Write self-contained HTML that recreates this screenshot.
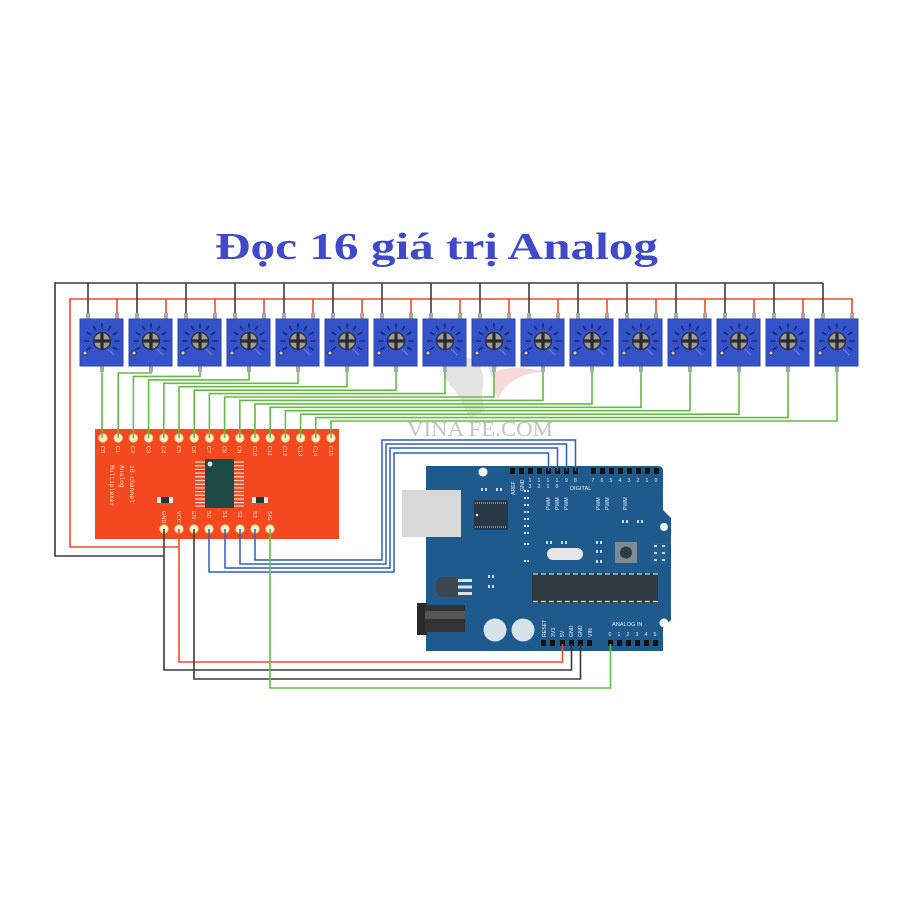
<!DOCTYPE html>
<html><head><meta charset="utf-8"><style>
html,body{margin:0;padding:0;background:#fff;}
svg{display:block;}
</style></head><body>
<svg width="907" height="907" viewBox="0 0 907 907" xmlns="http://www.w3.org/2000/svg" font-family="Liberation Sans, sans-serif">
<defs>
<g id="pot">
  <rect x="6" y="-6" width="4" height="7" fill="#a9a9a9"/>
  <rect x="35" y="-6" width="4" height="7" fill="#a9a9a9"/>
  <rect x="20" y="46" width="4" height="7" fill="#a9a9a9"/>
  <rect x="0" y="0" width="43" height="47" fill="#3452c9" stroke="#2b45ad" stroke-width="1"/>
  <g stroke="#1b2a70" stroke-width="1.6" stroke-linecap="round">
    <line x1="22" y1="9" x2="22" y2="5"/>
    <line x1="28.5" y1="10.7" x2="30.5" y2="7.3"/>
    <line x1="33.3" y1="15.5" x2="36.7" y2="13.5"/>
    <line x1="35" y1="22" x2="39" y2="22"/>
    <line x1="33.3" y1="28.5" x2="36.7" y2="30.5"/>
    <line x1="15.5" y1="10.7" x2="13.5" y2="7.3"/>
    <line x1="10.7" y1="15.5" x2="7.3" y2="13.5"/>
    <line x1="9" y1="22" x2="5" y2="22"/>
    <line x1="10.7" y1="28.5" x2="7.3" y2="30.5"/>
  </g>
  <line x1="28" y1="30" x2="34" y2="36" stroke="#6f86e0" stroke-width="1"/>
  <circle cx="22" cy="22" r="8.5" fill="#9c9c9c" stroke="#2c2c3a" stroke-width="1.3"/>
  <rect x="20.4" y="13.5" width="3.2" height="17" fill="#2a2a2a"/>
  <rect x="13.5" y="20.4" width="17" height="3.2" fill="#2a2a2a"/>
  <circle cx="5" cy="34" r="2" fill="#cfcfcf" stroke="#222" stroke-width="0.8"/>
</g>
</defs>

<rect width="907" height="907" fill="#fff"/>

<!-- Title -->
<text x="215" y="259" font-family="Liberation Serif, serif" font-weight="bold" font-size="38" fill="#3f49c9" textLength="443" lengthAdjust="spacingAndGlyphs">Đọc 16 giá trị Analog</text>

<!-- watermark -->
<g opacity="0.22">
  <path d="M450,360 C465,352 480,360 482,372 C486,385 478,395 486,410 L470,418 C462,405 460,395 452,388 C444,378 440,368 450,360 Z" fill="#8a8a8a"/>
  <path d="M495,372 C510,365 530,368 545,372 C525,372 505,380 498,400 C494,388 492,380 495,372 Z" fill="#e05050"/>
  <path d="M488,366 L500,362 L492,378 Z" fill="#7080c0"/>
</g>
<text x="407" y="436" font-family="Liberation Serif, serif" font-size="21" fill="#c4c4c4" textLength="146" lengthAdjust="spacingAndGlyphs">VINA FE.COM</text>

<!-- top buses -->
<g fill="none" stroke-width="1.6">
  <path d="M823,283 H55 V556 H164" stroke="#3a3a3a"/>
  <path d="M853,299 H70 V547 H179" stroke="#f04a2e"/>
</g>
<g stroke-width="1.6">
  <g stroke="#3a3a3a">
    <line x1="88" y1="283" x2="88" y2="313"/><line x1="137" y1="283" x2="137" y2="313"/>
    <line x1="186" y1="283" x2="186" y2="313"/><line x1="235" y1="283" x2="235" y2="313"/>
    <line x1="284" y1="283" x2="284" y2="313"/><line x1="333" y1="283" x2="333" y2="313"/>
    <line x1="382" y1="283" x2="382" y2="313"/><line x1="431" y1="283" x2="431" y2="313"/>
    <line x1="480" y1="283" x2="480" y2="313"/><line x1="529" y1="283" x2="529" y2="313"/>
    <line x1="578" y1="283" x2="578" y2="313"/><line x1="627" y1="283" x2="627" y2="313"/>
    <line x1="676" y1="283" x2="676" y2="313"/><line x1="725" y1="283" x2="725" y2="313"/>
    <line x1="774" y1="283" x2="774" y2="313"/><line x1="823" y1="283" x2="823" y2="313"/>
  </g>
  <g stroke="#f04a2e">
    <line x1="117" y1="299" x2="117" y2="313"/><line x1="166" y1="299" x2="166" y2="313"/>
    <line x1="215" y1="299" x2="215" y2="313"/><line x1="264" y1="299" x2="264" y2="313"/>
    <line x1="313" y1="299" x2="313" y2="313"/><line x1="362" y1="299" x2="362" y2="313"/>
    <line x1="411" y1="299" x2="411" y2="313"/><line x1="460" y1="299" x2="460" y2="313"/>
    <line x1="509" y1="299" x2="509" y2="313"/><line x1="558" y1="299" x2="558" y2="313"/>
    <line x1="607" y1="299" x2="607" y2="313"/><line x1="656" y1="299" x2="656" y2="313"/>
    <line x1="705" y1="299" x2="705" y2="313"/><line x1="754" y1="299" x2="754" y2="313"/>
    <line x1="803" y1="299" x2="803" y2="313"/><line x1="852" y1="299" x2="852" y2="313"/>
  </g>
</g>

<!-- pots -->
<use href="#pot" x="80" y="319"/><use href="#pot" x="129" y="319"/>
<use href="#pot" x="178" y="319"/><use href="#pot" x="227" y="319"/>
<use href="#pot" x="276" y="319"/><use href="#pot" x="325" y="319"/>
<use href="#pot" x="374" y="319"/><use href="#pot" x="423" y="319"/>
<use href="#pot" x="472" y="319"/><use href="#pot" x="521" y="319"/>
<use href="#pot" x="570" y="319"/><use href="#pot" x="619" y="319"/>
<use href="#pot" x="668" y="319"/><use href="#pot" x="717" y="319"/>
<use href="#pot" x="766" y="319"/><use href="#pot" x="815" y="319"/>

<!-- MUX board -->
<rect x="95" y="429" width="244" height="110" fill="#f4481f"/>
<g stroke="#d9d9d9" stroke-width="1.3">
  <path d="M195,462H244M195,465.7H244M195,469.4H244M195,473.1H244M195,476.8H244M195,480.5H244M195,484.2H244M195,487.9H244M195,491.6H244M195,495.3H244M195,499H244M195,502.7H244M195,506H244"/>
</g>
<rect x="205" y="459" width="29" height="49" fill="#1d4a45"/>
<circle cx="210" cy="464" r="2.4" fill="#e8e8e8"/>
<rect x="157" y="497" width="16" height="6" fill="#e8e8e8"/><rect x="161" y="497" width="8" height="6" fill="#1d3a38"/>
<rect x="252" y="497" width="16" height="6" fill="#e8e8e8"/><rect x="256" y="497" width="8" height="6" fill="#1d3a38"/>
<g fill="#ffe3cc" font-family="Liberation Mono, monospace" font-size="6.3">
  <text transform="translate(130,465) rotate(90)">16-channel</text>
  <text transform="translate(120,465) rotate(90)">Analog</text>
  <text transform="translate(110,465) rotate(90)">Multiplexer</text>
</g>
<g fill="#ffe3cc" font-size="5.6">
  <text transform="translate(101,446) rotate(90)">C0</text>
  <text transform="translate(116,446) rotate(90)">C1</text>
  <text transform="translate(131,446) rotate(90)">C2</text>
  <text transform="translate(146.5,446) rotate(90)">C3</text>
  <text transform="translate(161.5,446) rotate(90)">C4</text>
  <text transform="translate(177,446) rotate(90)">C5</text>
  <text transform="translate(192,446) rotate(90)">C6</text>
  <text transform="translate(207,446) rotate(90)">C7</text>
  <text transform="translate(222.5,446) rotate(90)">C8</text>
  <text transform="translate(237.5,446) rotate(90)">C9</text>
  <text transform="translate(253,446) rotate(90)">C10</text>
  <text transform="translate(268,446) rotate(90)">C11</text>
  <text transform="translate(283,446) rotate(90)">C12</text>
  <text transform="translate(298.5,446) rotate(90)">C13</text>
  <text transform="translate(313.5,446) rotate(90)">C14</text>
  <text transform="translate(329,446) rotate(90)">C15</text>
  <text transform="translate(162,511) rotate(90)">GND</text>
  <text transform="translate(177,511) rotate(90)">VCC</text>
  <text transform="translate(192,511) rotate(90)">EN</text>
  <text transform="translate(207,511) rotate(90)">S0</text>
  <text transform="translate(223,511) rotate(90)">S1</text>
  <text transform="translate(238,511) rotate(90)">S2</text>
  <text transform="translate(253,511) rotate(90)">S3</text>
  <text transform="translate(268,511) rotate(90)">SIG</text>
</g>
<g fill="#f7f0cc" stroke="#d9c98a" stroke-width="1">
  <circle cx="103" cy="438" r="4.2"/><circle cx="118.2" cy="438" r="4.2"/>
  <circle cx="133.4" cy="438" r="4.2"/><circle cx="148.6" cy="438" r="4.2"/>
  <circle cx="163.8" cy="438" r="4.2"/><circle cx="179" cy="438" r="4.2"/>
  <circle cx="194.2" cy="438" r="4.2"/><circle cx="209.4" cy="438" r="4.2"/>
  <circle cx="224.6" cy="438" r="4.2"/><circle cx="239.8" cy="438" r="4.2"/>
  <circle cx="255" cy="438" r="4.2"/><circle cx="270.2" cy="438" r="4.2"/>
  <circle cx="285.4" cy="438" r="4.2"/><circle cx="300.6" cy="438" r="4.2"/>
  <circle cx="315.8" cy="438" r="4.2"/><circle cx="331" cy="438" r="4.2"/>
  <circle cx="164" cy="529" r="4.2"/><circle cx="179" cy="529" r="4.2"/>
  <circle cx="194" cy="529" r="4.2"/><circle cx="209" cy="529" r="4.2"/>
  <circle cx="225" cy="529" r="4.2"/><circle cx="240" cy="529" r="4.2"/>
  <circle cx="255" cy="529" r="4.2"/><circle cx="270" cy="529" r="4.2"/>
</g>

<!-- green pot wires -->
<g fill="none" stroke="#66bb44" stroke-width="1.6">
  <path d="M102,372 V438"/>
  <path d="M151,372 V373 H118.2 V438"/>
  <path d="M200,372 V376.4 H133.4 V438"/>
  <path d="M249,372 V379.9 H148.6 V438"/>
  <path d="M298,372 V383.3 H163.8 V438"/>
  <path d="M347,372 V386.7 H179 V438"/>
  <path d="M396,372 V390.2 H194.2 V438"/>
  <path d="M445,372 V393.6 H209.4 V438"/>
  <path d="M494,372 V397 H224.6 V438"/>
  <path d="M543,372 V400.4 H239.8 V438"/>
  <path d="M592,372 V403.9 H255 V438"/>
  <path d="M641,372 V407.3 H270.2 V438"/>
  <path d="M690,372 V410.7 H285.4 V438"/>
  <path d="M739,372 V414.2 H300.6 V438"/>
  <path d="M788,372 V417.6 H315.8 V438"/>
  <path d="M837,372 V421 H331 V438"/>
</g>

<!-- Arduino -->
<path d="M426,466 L658,466 Q663,466 663,471 L663,510 L671,518 L671,620 L663,628 L663,651 L426,651 Z" fill="#1f5a8c"/>
<rect x="402" y="490" width="59" height="47" fill="#d8d8d8"/>
<rect x="417" y="603" width="10" height="32" fill="#2a2a2a"/>
<rect x="425" y="605" width="40" height="27" fill="#333"/>
<rect x="425" y="611" width="40" height="8" fill="#555"/>
<circle cx="495" cy="630" r="11.5" fill="#d6e3ea"/>
<circle cx="523" cy="630" r="11.5" fill="#d6e3ea"/>
<circle cx="483" cy="472" r="4.5" fill="#fff"/>
<circle cx="664" cy="527" r="4" fill="#fff"/>
<circle cx="664" cy="623" r="4.5" fill="#fff"/>
<rect x="474" y="500" width="34" height="30" fill="#283846"/>
<g stroke="#e0e0e0" stroke-width="1">
  <path d="M475,503h1M477,503h1M479,503h1M481,503h1M483,503h1M485,503h1M487,503h1M489,503h1M491,503h1M493,503h1M495,503h1M497,503h1M499,503h1M501,503h1M503,503h1M505,503h1"/>
  <path d="M475,527h1M477,527h1M479,527h1M481,527h1M483,527h1M485,527h1M487,527h1M489,527h1M491,527h1M493,527h1M495,527h1M497,527h1M499,527h1M501,527h1M503,527h1M505,527h1"/>
</g>
<rect x="474" y="504" width="34" height="22" fill="#283846"/>
<circle cx="477" cy="515" r="1.2" fill="#fff"/>
<g fill="#d0d8e0">
  <rect x="481" y="488" width="2" height="3"/><rect x="485" y="488" width="2" height="3"/>
  <rect x="496" y="488" width="2" height="3"/><rect x="500" y="488" width="2" height="3"/>
  <rect x="524" y="490" width="2" height="2"/><rect x="527" y="490" width="2" height="2"/>
  <rect x="524" y="497" width="2" height="2"/><rect x="527" y="497" width="2" height="2"/>
  <rect x="524" y="504" width="2" height="2"/><rect x="527" y="504" width="2" height="2"/>
  <rect x="524" y="511" width="2" height="2"/><rect x="527" y="511" width="2" height="2"/>
  <rect x="524" y="518" width="2" height="2"/><rect x="527" y="518" width="2" height="2"/>
  <rect x="524" y="525" width="2" height="2"/><rect x="527" y="525" width="2" height="2"/>
  <rect x="524" y="532" width="2" height="2"/><rect x="527" y="532" width="2" height="2"/>
  <rect x="524" y="543" width="2" height="2"/><rect x="527" y="543" width="2" height="2"/>
  <rect x="524" y="560" width="2" height="2"/><rect x="527" y="560" width="2" height="2"/>
  <rect x="546" y="541" width="2" height="3"/><rect x="550" y="541" width="2" height="3"/>
  <rect x="561" y="541" width="2" height="3"/><rect x="565" y="541" width="2" height="3"/>
  <rect x="596" y="541" width="2" height="3"/><rect x="600" y="541" width="2" height="3"/>
  <rect x="596" y="550" width="2" height="3"/><rect x="600" y="550" width="2" height="3"/>
  <rect x="596" y="560" width="2" height="3"/><rect x="600" y="560" width="2" height="3"/>
  <rect x="622" y="520" width="2" height="3"/><rect x="626" y="520" width="2" height="3"/>
  <rect x="637" y="520" width="2" height="3"/><rect x="641" y="520" width="2" height="3"/>
  <rect x="488" y="575" width="2" height="3"/><rect x="492" y="575" width="2" height="3"/>
  <rect x="488" y="585" width="2" height="3"/><rect x="492" y="585" width="2" height="3"/>
</g>
<rect x="547" y="548" width="36" height="12" rx="6" fill="#e6e6e6"/>
<rect x="615" y="542" width="22" height="21" fill="#7b8b96"/>
<circle cx="626" cy="552.5" r="6" fill="#2c3a42"/>
<rect x="652" y="543" width="16" height="21" fill="#245f90"/>
<g fill="#cfcfcf">
  <rect x="654" y="545" width="3" height="2"/><rect x="662" y="545" width="3" height="2"/>
  <rect x="654" y="552" width="3" height="2"/><rect x="662" y="552" width="3" height="2"/>
  <rect x="654" y="559" width="3" height="2"/><rect x="662" y="559" width="3" height="2"/>
</g>
<rect x="532" y="573" width="126" height="30" fill="#2f3b40"/>
<g stroke="#d8d8d8" stroke-width="1.2" stroke-dasharray="5,3">
  <line x1="533" y1="574" x2="658" y2="574"/>
  <line x1="533" y1="601.5" x2="658" y2="601.5"/>
</g>
<rect x="436" y="577" width="22" height="20" rx="7" fill="#3a4650"/>
<rect x="444" y="577" width="14" height="20" fill="#3a4650"/>
<g fill="#e0e0e0"><rect x="458" y="579" width="14" height="3"/><rect x="458" y="585.5" width="14" height="3"/><rect x="458" y="592" width="14" height="3"/></g>
<g fill="#111">
  <rect x="510" y="468" width="5" height="6"/><rect x="519" y="468" width="5" height="6"/>
  <rect x="528" y="468" width="5" height="6"/><rect x="537" y="468" width="5" height="6"/>
  <rect x="546" y="468" width="5" height="6"/><rect x="555" y="468" width="5" height="6"/>
  <rect x="564" y="468" width="5" height="6"/><rect x="573" y="468" width="5" height="6"/>
  <rect x="591" y="468" width="5" height="6"/><rect x="600" y="468" width="5" height="6"/>
  <rect x="609" y="468" width="5" height="6"/><rect x="618" y="468" width="5" height="6"/>
  <rect x="627" y="468" width="5" height="6"/><rect x="636" y="468" width="5" height="6"/>
  <rect x="645" y="468" width="5" height="6"/><rect x="654" y="468" width="5" height="6"/>
  <rect x="541" y="640" width="5" height="6"/><rect x="550" y="640" width="5" height="6"/>
  <rect x="560" y="640" width="5" height="6"/><rect x="569" y="640" width="5" height="6"/>
  <rect x="578" y="640" width="5" height="6"/><rect x="587" y="640" width="5" height="6"/>
  <rect x="608" y="640" width="5" height="6"/><rect x="617" y="640" width="5" height="6"/>
  <rect x="626" y="640" width="5" height="6"/><rect x="635" y="640" width="5" height="6"/>
  <rect x="644" y="640" width="5" height="6"/><rect x="653" y="640" width="5" height="6"/>
</g>
<g fill="#e8eef4" font-size="5.2">
  <text transform="translate(515,495) rotate(-90)">AREF</text>
  <text transform="translate(524,491) rotate(-90)">GND</text>
  <text x="528.5" y="482">1</text><text x="528.5" y="488">3</text>
  <text x="537.5" y="482">1</text><text x="537.5" y="488">2</text>
  <text x="546.5" y="482">1</text><text x="546.5" y="488">1</text>
  <text x="555.5" y="482">1</text><text x="555.5" y="488">0</text>
  <text x="565" y="482">9</text><text x="574" y="482">8</text>
  <text x="570" y="490" font-size="5.6">DIGITAL</text>
  <text x="591.5" y="482">7</text><text x="600.5" y="482">6</text><text x="609.5" y="482">5</text><text x="618.5" y="482">4</text>
  <text x="627.5" y="482">3</text><text x="636.5" y="482">2</text><text x="645.5" y="482">1</text><text x="654.5" y="482">0</text>
  <text transform="translate(550,510) rotate(-90)">PWM</text>
  <text transform="translate(559,510) rotate(-90)">PWM</text>
  <text transform="translate(568,510) rotate(-90)">PWM</text>
  <text transform="translate(600,510) rotate(-90)">PWM</text>
  <text transform="translate(609,510) rotate(-90)">PWM</text>
  <text transform="translate(627,510) rotate(-90)">PWM</text>
  <text transform="translate(546,637) rotate(-90)">RESET</text>
  <text transform="translate(555,637) rotate(-90)">3V3</text>
  <text transform="translate(564,637) rotate(-90)">5V</text>
  <text transform="translate(573,637) rotate(-90)">GND</text>
  <text transform="translate(582,637) rotate(-90)">GND</text>
  <text transform="translate(592,637) rotate(-90)">VIN</text>
  <text x="612" y="626" font-size="5.6">ANALOG IN</text>
  <text x="608.5" y="636">0</text><text x="617.5" y="636">1</text><text x="626.5" y="636">2</text>
  <text x="635.5" y="636">3</text><text x="644.5" y="636">4</text><text x="653.5" y="636">5</text>
</g>

<!-- blue wires -->
<g fill="none" stroke="#2b5fbf" stroke-width="1.5">
  <path d="M209,529 V572 H394 V453 H548.5 V471"/>
  <path d="M225,529 V568 H390 V448 H557.5 V471"/>
  <path d="M240,529 V564 H386 V444 H566.5 V471"/>
  <path d="M255,529 V560 H382 V440 H575.5 V471"/>
</g>
<!-- bottom wires -->
<g fill="none" stroke-width="1.6">
  <path d="M179,529 V662 H562.5 V644" stroke="#f04a2e"/>
  <path d="M164,529 V670 H571.5 V644" stroke="#3a3a3a"/>
  <path d="M194,529 V679 H580.5 V644" stroke="#3a3a3a"/>
  <path d="M270,529 V688 H610.5 V644" stroke="#66bb44"/>
</g>
</svg>
</body></html>
